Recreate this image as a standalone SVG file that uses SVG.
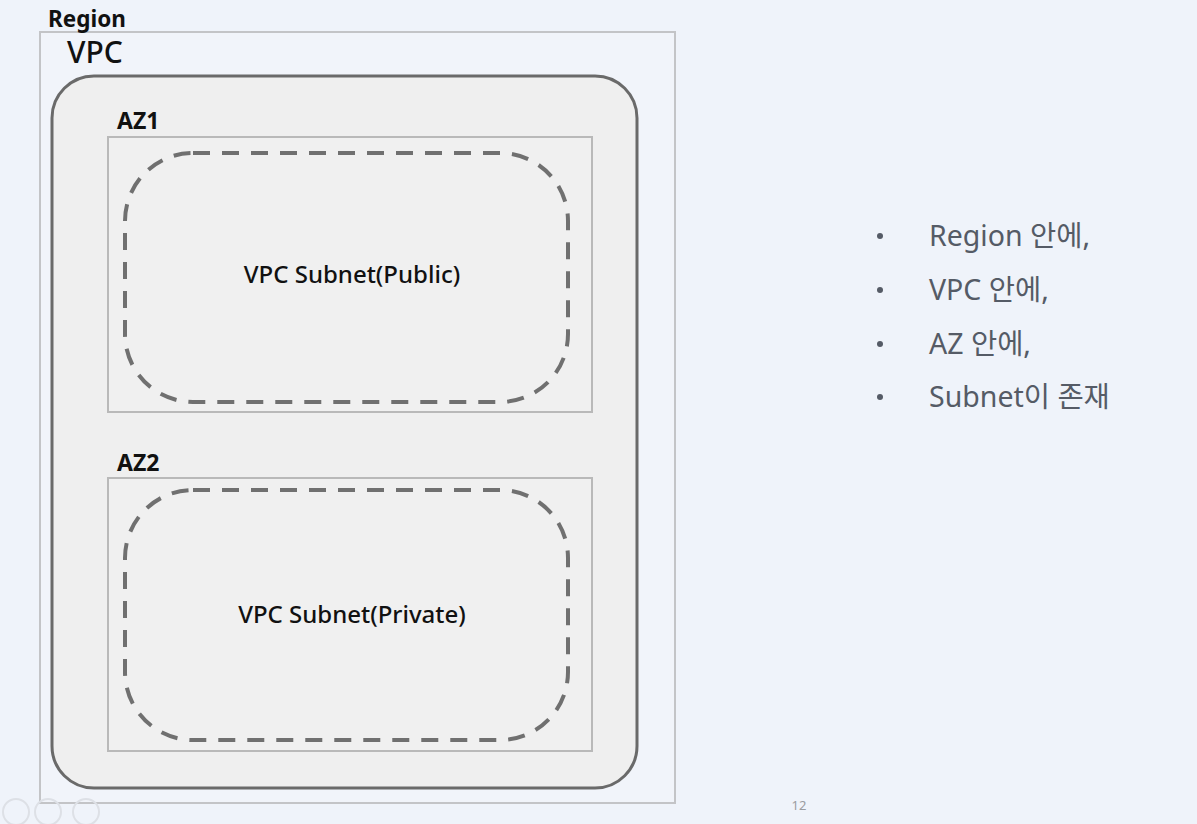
<svg xmlns="http://www.w3.org/2000/svg" width="1197" height="824" viewBox="0 0 1197 824">
<style>
text{font-family:"Noto Sans","Noto Sans CJK KR",sans-serif}
.lbl{font-weight:bold;fill:#111}
.az{fill:#f0f0f0;stroke:#b9b9b9;stroke-width:2}
.sub{fill:none;stroke:#707070;stroke-width:4;stroke-dasharray:17 12}
.sn{font-size:24px;fill:#111;text-anchor:middle;font-weight:500}
.bul{font-size:28.5px;fill:#555b66}
.ic{fill:none;stroke:#dde0e6;stroke-width:2}
</style>
<rect width="1197" height="824" fill="#eff3fa"/>
<g id="region">
<rect x="40" y="32" width="635" height="771" fill="#f1f4fa" stroke="#c3c4c7" stroke-width="2"/>
<text class="lbl" x="48" y="27" font-size="22.5">Region</text>
</g>
<g id="vpc">
<rect x="52" y="76" width="585" height="712" rx="42" fill="#efefef" stroke="#6a6a6a" stroke-width="3"/>
<text x="67" y="63" font-size="30" fill="#111" font-weight="500">VPC</text>
</g>
<g id="az1">
<rect class="az" x="108" y="137" width="484" height="275"/>
<text class="lbl" x="117" y="129" font-size="23">AZ1</text>
</g>
<g id="subnet-public">
<rect class="sub" x="125" y="153" width="443" height="249" rx="68"/>
<text class="sn" x="352" y="283">VPC Subnet(Public)</text>
</g>
<g id="az2">
<rect class="az" x="108" y="478" width="484" height="273"/>
<text class="lbl" x="117" y="471" font-size="23">AZ2</text>
</g>
<g id="subnet-private">
<rect class="sub" x="125" y="490" width="443" height="250" rx="68"/>
<text class="sn" x="352" y="623">VPC Subnet(Private)</text>
</g>
<g id="connectors"></g>
<g id="bullets">
<circle cx="880" cy="236" r="3" fill="#555b66"/>
<circle cx="880" cy="290" r="3" fill="#555b66"/>
<circle cx="880" cy="344" r="3" fill="#555b66"/>
<circle cx="880" cy="397" r="3" fill="#555b66"/>
<text class="bul" x="929" y="246">Region 안에,</text>
<text class="bul" x="929" y="300">VPC 안에,</text>
<text class="bul" x="929" y="354">AZ 안에,</text>
<text class="bul" x="929" y="407">Subnet이 존재</text>
</g>
<text x="799" y="810" font-size="13" fill="#9a9ca0" text-anchor="middle">12</text>
<g id="controls">
<circle class="ic" cx="16" cy="812" r="13"/>
<circle class="ic" cx="48" cy="812" r="13"/>
<circle class="ic" cx="86" cy="812" r="13"/>
</g>
</svg>
